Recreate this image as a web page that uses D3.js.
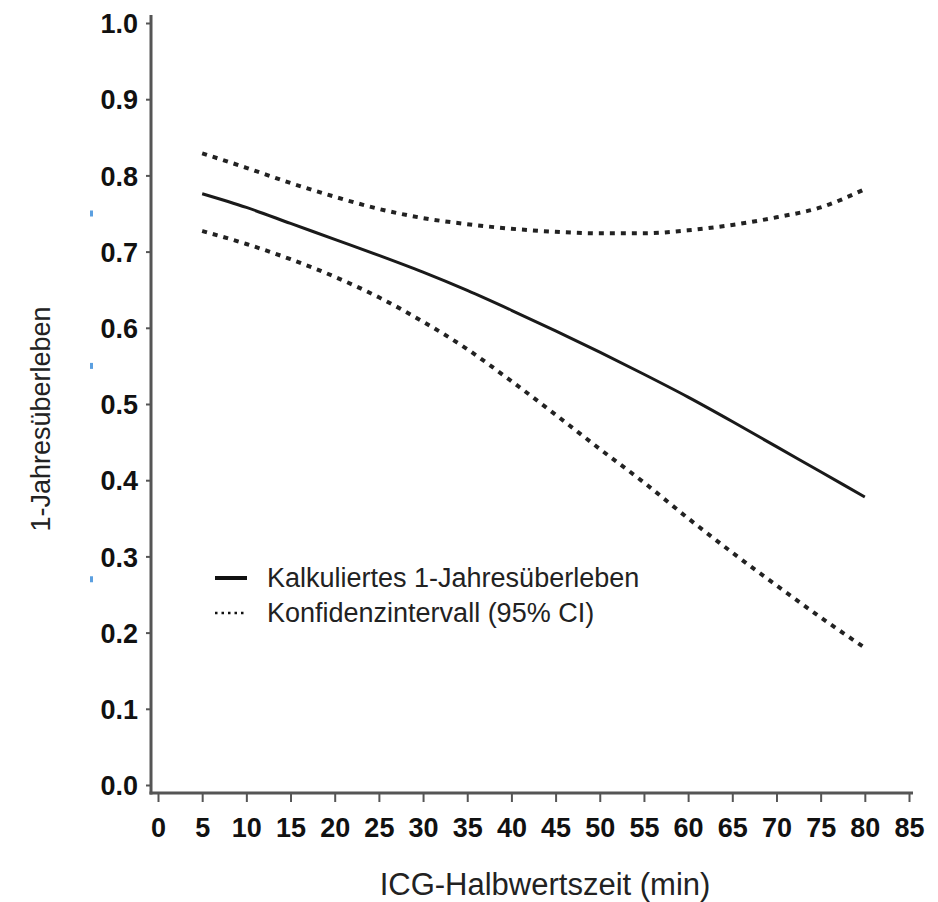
<!DOCTYPE html>
<html>
<head>
<meta charset="utf-8">
<script src="https://cdn.jsdelivr.net/npm/d3@7"></script>
<style>
  body { margin: 0; background: #fff; }
  text { font-family: "Liberation Sans", Arial, sans-serif; }
</style>
</head>
<body>
<div id="chart"></div>
<script>
// values
var halbwertszeit = [5, 10, 15, 20, 25, 30, 35, 40, 45, 50, 55, 60, 65, 70, 75, 80]
var ueberleben = [0.776, 0.758, 0.737, 0.716, 0.695, 0.673, 0.649, 0.623, 0.596, 0.568, 0.539, 0.509, 0.477, 0.444, 0.411, 0.378]
var ciOben = [0.829, 0.810, 0.790, 0.772, 0.756, 0.744, 0.736, 0.730, 0.726, 0.724, 0.724, 0.728, 0.735, 0.745, 0.758, 0.782]
var ciUnten = [0.727, 0.710, 0.690, 0.667, 0.640, 0.608, 0.572, 0.530, 0.486, 0.441, 0.397, 0.350, 0.305, 0.262, 0.220, 0.180]
var xTicks = d3.range(0, 86, 5)
var yTicks = d3.range(0, 11).map(d => d / 10)
var legendLabels = ["Kalkuliertes 1-Jahresüberleben", "Konfidenzintervall (95% CI)"]

var width = 938, height = 902

var svg = d3.select("#chart").append("svg")
  .attr("width", width)
  .attr("height", height)

var x = d3.scaleLinear().domain([0, 85]).range([158, 909])
var y = d3.scaleLinear().domain([0, 1]).range([785, 23])

var axisX = 151, axisY = 793

// y axis
var gy = svg.append("g").attr("transform", "translate(" + axisX + ",0)")
  .call(d3.axisLeft(y).tickValues(yTicks).tickSize(5).tickPadding(8).tickFormat(d3.format(".1f")))
gy.select(".domain").remove()
gy.append("line").attr("x1", 0).attr("x2", 0).attr("y1", 15).attr("y2", axisY + 1.5)
gy.selectAll(".tick line").attr("stroke", "#555").attr("stroke-width", 2)
gy.select("line:last-child").attr("stroke", "#555").attr("stroke-width", 3)
gy.selectAll(".tick text")
  .attr("fill", "#111")
  .style("font-size", "27px")
  .style("font-weight", "bold")
  .attr("dy", "0.36em")

// x axis
var gx = svg.append("g").attr("transform", "translate(0," + axisY + ")")
  .call(d3.axisBottom(x).tickValues(xTicks).tickSize(9).tickPadding(16))
gx.select(".domain").remove()
gx.append("line").attr("x1", axisX - 1.5).attr("x2", 913).attr("y1", 0).attr("y2", 0)
  .attr("stroke", "#555").attr("stroke-width", 3)
gx.selectAll(".tick line").attr("stroke", "#555").attr("stroke-width", 2)
gx.selectAll(".tick text")
  .attr("fill", "#111")
  .style("font-size", "27px")
  .style("font-weight", "bold")

// axis titles
svg.append("text")
  .attr("transform", "translate(50,419) rotate(-90)")
  .attr("text-anchor", "middle")
  .style("font-size", "27px")
  .attr("fill", "#222")
  .text("1-Jahresüberleben")

svg.append("text")
  .attr("x", 545).attr("y", 895)
  .attr("text-anchor", "middle")
  .style("font-size", "31px")
  .attr("fill", "#222")
  .text("ICG-Halbwertszeit (min)")

// curves
var line = d3.line()
  .x((d, i) => x(halbwertszeit[i]))
  .y(d => y(d))
  .curve(d3.curveMonotoneX)

svg.append("path").datum(ciOben)
  .attr("d", line).attr("fill", "none")
  .attr("stroke", "#222").attr("stroke-width", 4).attr("stroke-dasharray", "5,6")

svg.append("path").datum(ciUnten)
  .attr("d", line).attr("fill", "none")
  .attr("stroke", "#222").attr("stroke-width", 4).attr("stroke-dasharray", "5,6")

svg.append("path").datum(ueberleben)
  .attr("d", line).attr("fill", "none")
  .attr("stroke", "#1a1a1a").attr("stroke-width", 3)

// legend
var legend = svg.append("g").attr("transform", "translate(215,578)")
legendLabels.forEach(function(lab, i) {
  var row = legend.append("g").attr("transform", "translate(0," + (i * 35) + ")")
  row.append("line").attr("x1", 0).attr("x2", 32).attr("y1", 0).attr("y2", 0)
    .attr("stroke", "#111")
    .attr("stroke-width", i == 0 ? 4 : 2.5)
    .attr("stroke-dasharray", i == 0 ? null : "2.5,4")
  row.append("text").attr("x", 52).attr("y", 0).attr("dy", "0.35em")
    .style("font-size", "27px").attr("fill", "#222")
    .text(lab)
})

// small blue marks at the left edge of the original figure
svg.selectAll(".mark").data([0.75, 0.55, 0.27]).enter()
  .append("rect").attr("class", "mark")
  .attr("x", 90).attr("y", d => y(d) - 3)
  .attr("width", 3).attr("height", 6)
  .attr("fill", "#5b9fe0")
</script>
</body>
</html>
